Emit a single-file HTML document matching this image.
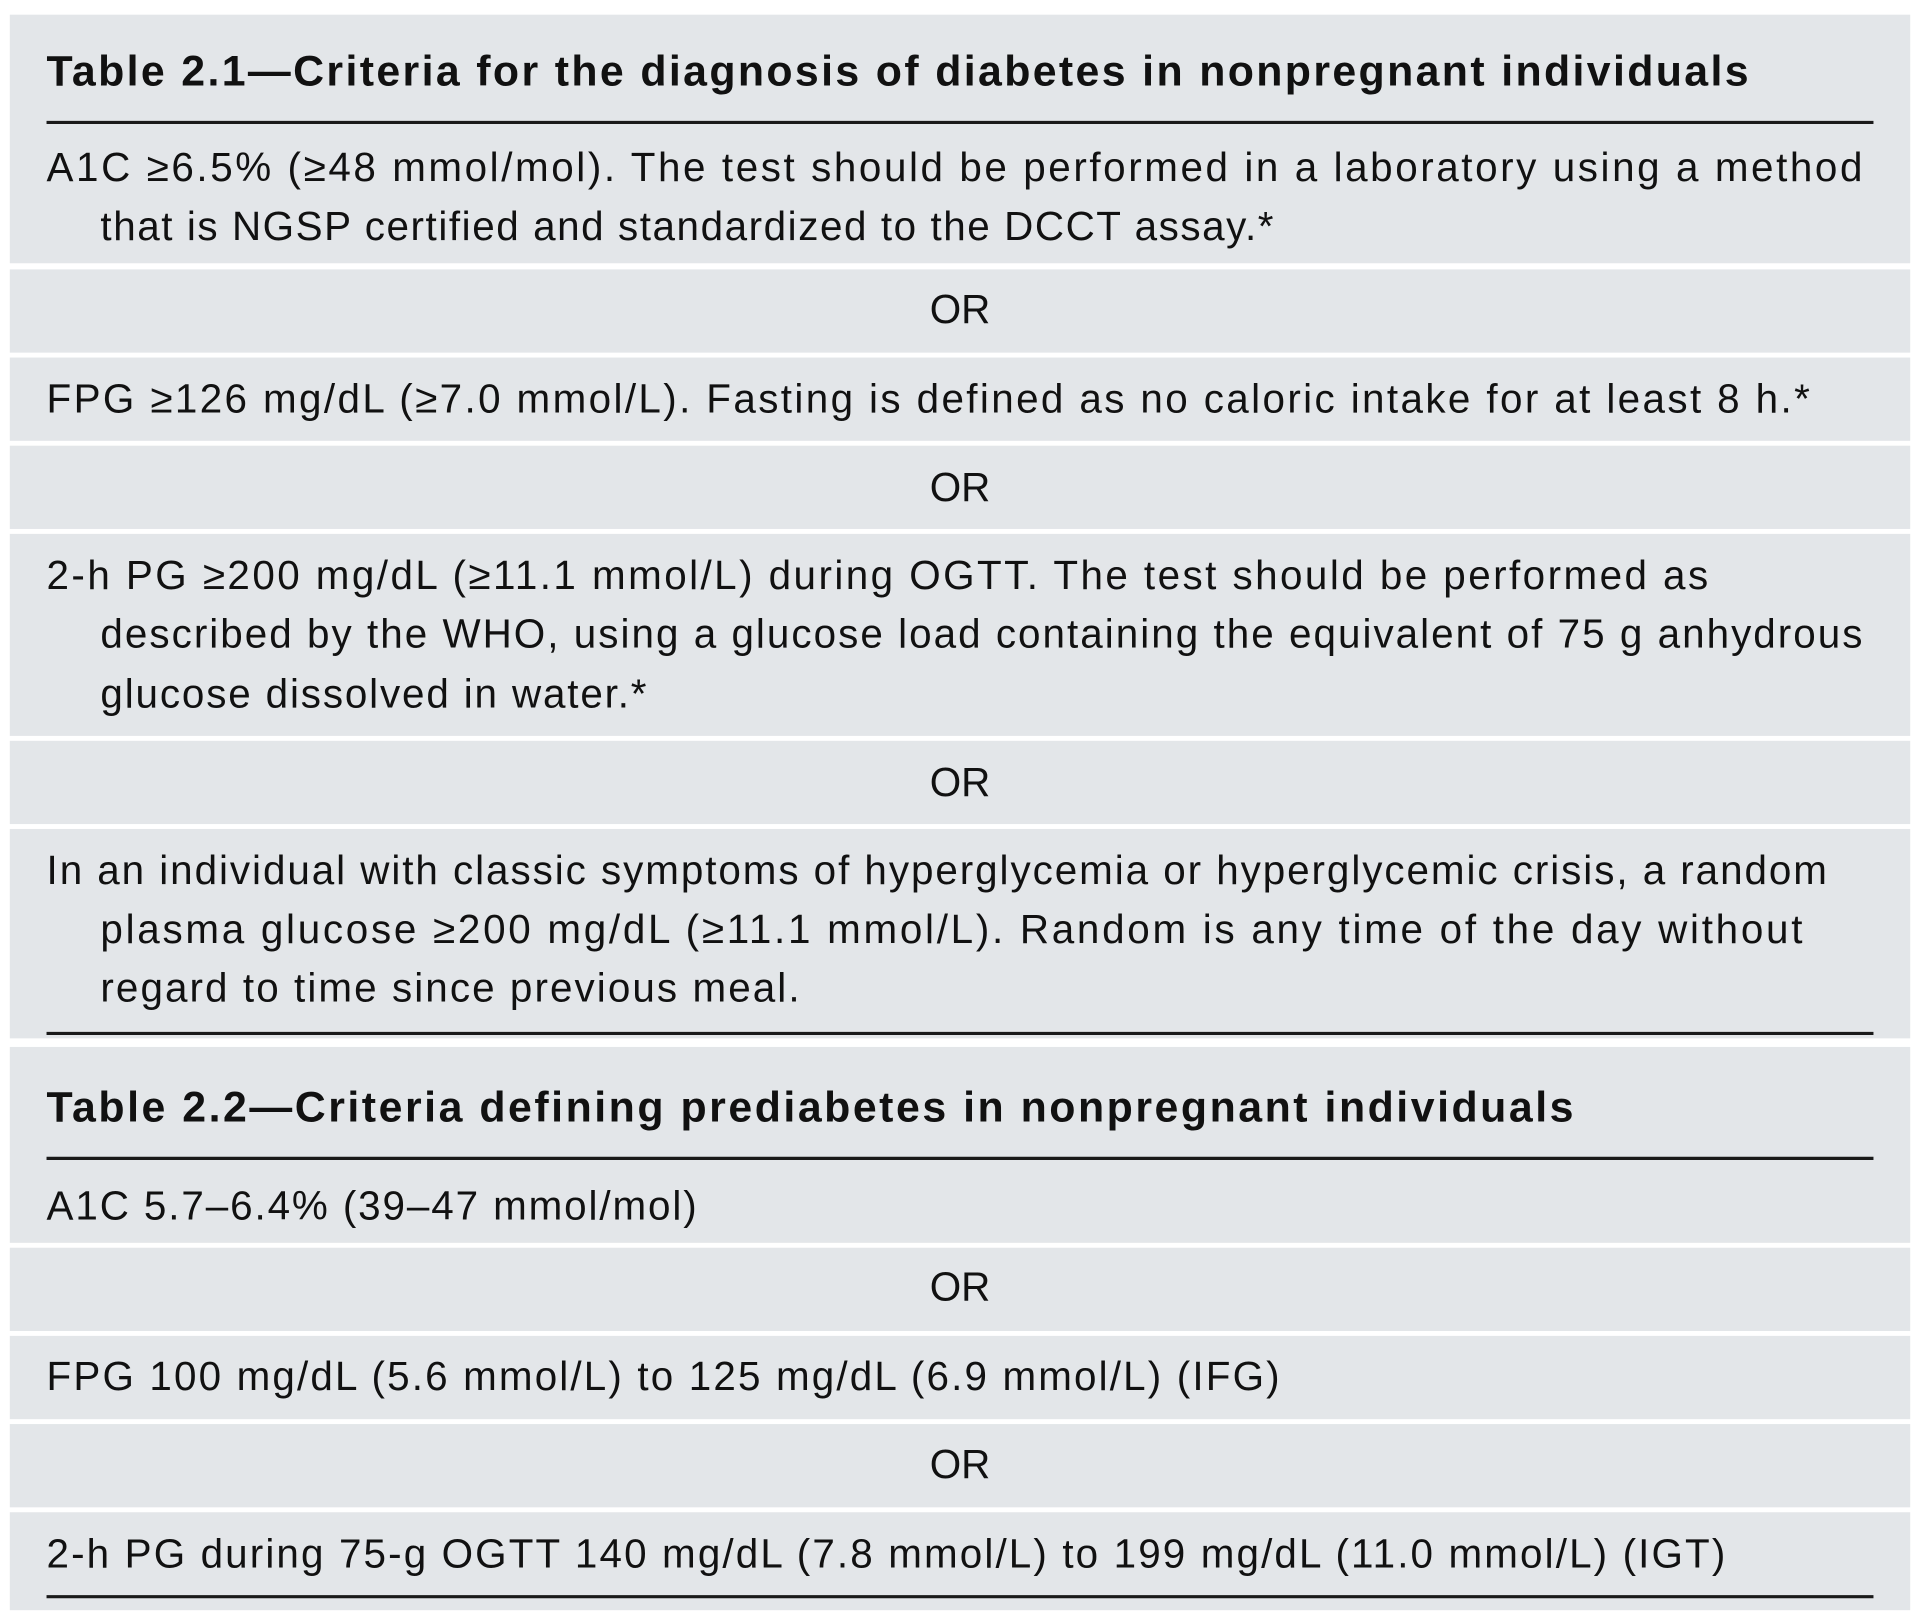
<!DOCTYPE html>
<html><head><meta charset="utf-8"><style>html,body{margin:0;padding:0;background:#fff}svg{display:block}</style></head>
<body>
<svg width="1920" height="1613" viewBox="0 0 1568 1317.3" preserveAspectRatio="none" xmlns="http://www.w3.org/2000/svg">
<rect width="1568" height="1318" fill="#fff"/>
<g fill="#e3e6e9">
<rect x="8" y="12" width="1552" height="203"/>
<rect x="8" y="220" width="1552" height="68"/>
<rect x="8" y="292" width="1552" height="68"/>
<rect x="8" y="364" width="1552" height="68"/>
<rect x="8" y="436" width="1552" height="165"/>
<rect x="8" y="605" width="1552" height="68"/>
<rect x="8" y="677" width="1552" height="171"/>
<rect x="8" y="855" width="1552" height="160"/>
<rect x="8" y="1019" width="1552" height="68"/>
<rect x="8" y="1091" width="1552" height="68"/>
<rect x="8" y="1163" width="1552" height="68"/>
<rect x="8" y="1235" width="1552" height="80"/>
</g>
<g stroke="#1a1a1a" stroke-width="2.6">
<line x1="38" y1="100" x2="1530" y2="100"/>
<line x1="38" y1="844" x2="1530" y2="844"/>
<line x1="38" y1="946" x2="1530" y2="946"/>
<line x1="38" y1="1304" x2="1530" y2="1304"/>
</g>
<g font-family="Liberation Sans, sans-serif" fill="#111">
<g font-weight="bold" font-size="35">
<text x="38" y="70" textLength="1390" lengthAdjust="spacing">Table 2.1—Criteria for the diagnosis of diabetes in nonpregnant individuals</text>
<text x="38" y="916" textLength="1247" lengthAdjust="spacing">Table 2.2—Criteria defining prediabetes in nonpregnant individuals</text>
</g>
<g font-size="33">
<text x="38" y="148" textLength="1483" lengthAdjust="spacing">A1C ≥6.5% (≥48 mmol/mol). The test should be performed in a laboratory using a method</text>
<text x="82" y="196" textLength="958" lengthAdjust="spacing">that is NGSP certified and standardized to the DCCT assay.*</text>
<text x="784" y="264" text-anchor="middle">OR</text>
<text x="38" y="337" textLength="1440" lengthAdjust="spacing">FPG ≥126 mg/dL (≥7.0 mmol/L). Fasting is defined as no caloric intake for at least 8 h.*</text>
<text x="784" y="409" text-anchor="middle">OR</text>
<text x="38" y="481" textLength="1357" lengthAdjust="spacing">2-h PG ≥200 mg/dL (≥11.1 mmol/L) during OGTT. The test should be performed as</text>
<text x="82" y="529" textLength="1439" lengthAdjust="spacing">described by the WHO, using a glucose load containing the equivalent of 75 g anhydrous</text>
<text x="82" y="578" textLength="446" lengthAdjust="spacing">glucose dissolved in water.*</text>
<text x="784" y="650" text-anchor="middle">OR</text>
<text x="38" y="722" textLength="1454" lengthAdjust="spacing">In an individual with classic symptoms of hyperglycemia or hyperglycemic crisis, a random</text>
<text x="82" y="770" textLength="1390" lengthAdjust="spacing">plasma glucose ≥200 mg/dL (≥11.1 mmol/L). Random is any time of the day without</text>
<text x="82" y="818" textLength="571" lengthAdjust="spacing">regard to time since previous meal.</text>
<text x="38" y="996" textLength="531" lengthAdjust="spacing">A1C 5.7–6.4% (39–47 mmol/mol)</text>
<text x="784" y="1062" text-anchor="middle">OR</text>
<text x="38" y="1135" textLength="1007" lengthAdjust="spacing">FPG 100 mg/dL (5.6 mmol/L) to 125 mg/dL (6.9 mmol/L) (IFG)</text>
<text x="784" y="1207" text-anchor="middle">OR</text>
<text x="38" y="1280" textLength="1371" lengthAdjust="spacing">2-h PG during 75-g OGTT 140 mg/dL (7.8 mmol/L) to 199 mg/dL (11.0 mmol/L) (IGT)</text>
</g>
</g>
</svg>
</body></html>
